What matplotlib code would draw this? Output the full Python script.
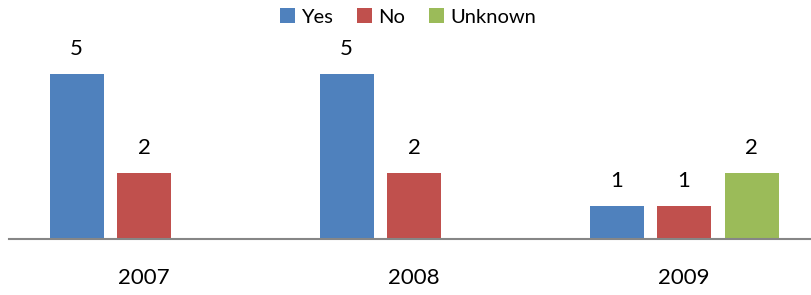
import matplotlib
matplotlib.use('Agg')
import matplotlib.pyplot as plt
import numpy as np

# Data
years = ['2007', '2008', '2009']
series_names = ['Yes', 'No', 'Unknown']
yes_counts = [5, 5, 1]
no_counts = [2, 2, 1]
unknown_counts = [None, None, 2]

colors = ['#4F81BD', '#C0504D', '#9BBB59']

plt.rcParams['font.family'] = ['Lato', 'DejaVu Sans']

fig = plt.figure(figsize=(8.11, 2.95), dpi=100)
# axes spans x=9..811 px, baseline at y=239 px, top (value 6) at y=41 px
ax = fig.add_axes([9 / 811, 56 / 295, 802 / 811, 198 / 295])

x = np.arange(len(years))
bar_width = 0.2
offsets = [-0.25, 0.0, 0.25]

for values, name, color, off in zip(
    [yes_counts, no_counts, unknown_counts], series_names, colors, offsets
):
    xs = [xi + off for xi, v in zip(x, values) if v is not None]
    hs = [v for v in values if v is not None]
    ax.bar(xs, hs, width=bar_width, color=color, label=name, linewidth=0)
    for xi, h in zip(xs, hs):
        ax.annotate(
            str(h), (xi, h), xytext=(0, 14), textcoords='offset points',
            ha='center', va='baseline', fontsize=16, color='black'
        )

ax.set_xlim(-0.5, -0.5 + 802 / 270)
ax.set_ylim(0, 6)
ax.set_xticks(x)
ax.set_xticklabels(years, fontsize=16)
ax.tick_params(axis='x', length=0, pad=21)
ax.set_yticks([])
for side in ['top', 'right', 'left']:
    ax.spines[side].set_visible(False)
ax.spines['bottom'].set_color('#868686')
ax.spines['bottom'].set_linewidth(1.5)

fig.legend(
    loc='center', bbox_to_anchor=(0.503, 1 - 17 / 295), ncol=3,
    frameon=False, fontsize=14.5, handlelength=0.75, handleheight=0.75,
    handletextpad=0.3, columnspacing=1.2, borderaxespad=0
)

fig.savefig('out.png', dpi=100)
